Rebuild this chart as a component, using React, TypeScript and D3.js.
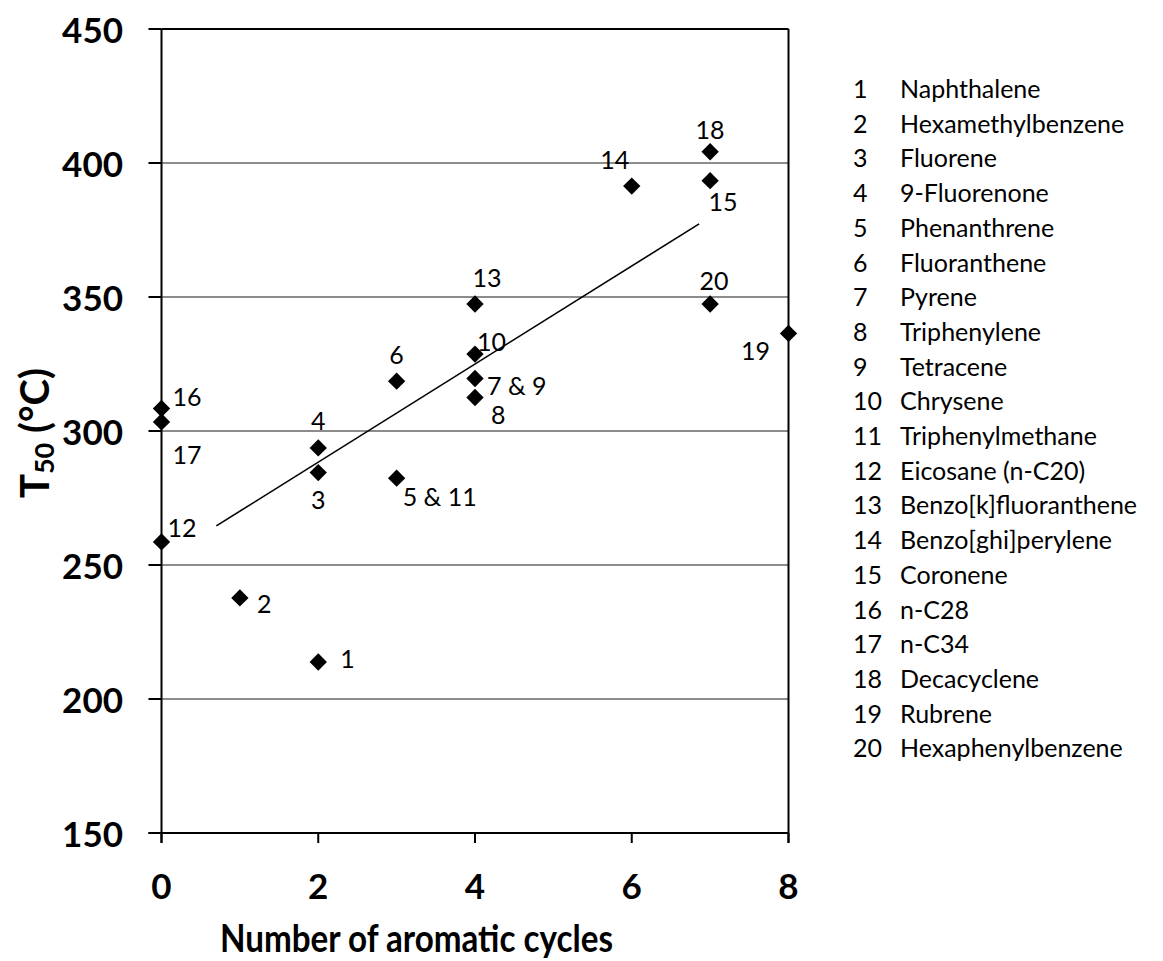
import React from 'react';
import * as d3 from 'd3';

// point labels, x = aromatic cycles, y = T50 (°C)
const pointLabels = ['1', '2', '3', '4', '5 & 11', '6', '7 & 9', '8', '10', '12', '13', '14', '15', '16', '17', '18', '19', '20'];
const cycles = [2, 1, 2, 2, 3, 3, 4, 4, 4, 0, 4, 6, 7, 0, 0, 7, 8, 7];
const t50 = [213.8, 237.7, 284.5, 293.7, 282.4, 318.6, 319.6, 312.5, 328.7, 258.6, 347.4, 391.4, 393.4, 308.4, 303.4, 404.2, 336.4, 347.4];

// trend line end points
const trendX = [0.7, 6.86];
const trendY = [264.6, 377.3];

const xTicks = [0, 2, 4, 6, 8];
const yTicks = [150, 200, 250, 300, 350, 400, 450];

const compounds = [
  'Naphthalene',
  'Hexamethylbenzene',
  'Fluorene',
  '9-Fluorenone',
  'Phenanthrene',
  'Fluoranthene',
  'Pyrene',
  'Triphenylene',
  'Tetracene',
  'Chrysene',
  'Triphenylmethane',
  'Eicosane (n-C20)',
  'Benzo[k]fluoranthene',
  'Benzo[ghi]perylene',
  'Coronene',
  'n-C28',
  'n-C34',
  'Decacyclene',
  'Rubrene',
  'Hexaphenylbenzene',
];

// label placement around each marker: [dx, dy, anchor]
const labelPos: Record<string, [number, number, string]> = {
  '1': [22, -4, 'start'],
  '2': [17, 5, 'start'],
  '3': [0, 26, 'middle'],
  '4': [0, -28, 'middle'],
  '5 & 11': [6, 18, 'start'],
  '6': [0, -27, 'middle'],
  '7 & 9': [12, 7, 'start'],
  '8': [16, 16, 'start'],
  '10': [2, -13, 'start'],
  '12': [6, -15, 'start'],
  '13': [12, -27, 'middle'],
  '14': [-17, -27, 'middle'],
  '15': [13, 20, 'middle'],
  '16': [11, -12, 'start'],
  '17': [11, 32, 'start'],
  '18': [0, -23, 'middle'],
  '19': [-33, 17, 'middle'],
  '20': [4, -24, 'middle'],
};

const W = 1163;
const H = 961;
const font = 'Lato, "Open Sans", sans-serif';

export default function App() {
  const x = d3.scaleLinear().domain([0, 8]).range([161.5, 788.5]);
  const y = d3.scaleLinear().domain([150, 450]).range([833, 29]);
  const diamond = d3.symbol(d3.symbolSquare, 150)() || '';
  const trend = d3.line<number>()((trendX.map((v, i) => [x(v), y(trendY[i])]) as any)) || '';

  return (
    <svg width={W} height={H} style={{ position: 'absolute', left: 0, top: 0, background: '#fff' }} fontFamily={font}>
      {/* gridlines */}
      {yTicks.slice(1, -1).map((t) => (
        <line key={t} x1={x(0)} x2={x(8)} y1={y(t)} y2={y(t)} stroke="#8c8c8c" strokeWidth={1.8} />
      ))}
      {/* frame */}
      <line x1={x(0)} x2={x(8)} y1={y(450)} y2={y(450)} stroke="#000" strokeWidth={2} />
      <line x1={x(8)} x2={x(8)} y1={y(450)} y2={y(150) + 10} stroke="#000" strokeWidth={2} />
      {/* y axis */}
      <line x1={x(0)} x2={x(0)} y1={y(450)} y2={y(150) + 10} stroke="#000" strokeWidth={2} />
      {yTicks.map((t) => (
        <g key={t}>
          <line x1={x(0) - 13} x2={x(0)} y1={y(t)} y2={y(t)} stroke="#000" strokeWidth={2} />
          <text x={123} y={y(t)} textAnchor="end" dominantBaseline="central" fontSize={35} fontWeight="bold">
            {t}
          </text>
        </g>
      ))}
      {/* x axis */}
      <line x1={x(0) - 13} x2={x(8)} y1={y(150)} y2={y(150)} stroke="#000" strokeWidth={2} />
      {xTicks.map((t) => (
        <g key={t}>
          <line x1={x(t)} x2={x(t)} y1={y(150)} y2={y(150) + 10} stroke="#000" strokeWidth={2} />
          <text x={x(t)} y={885} textAnchor="middle" dominantBaseline="central" fontSize={35} fontWeight="bold">
            {t}
          </text>
        </g>
      ))}
      {/* trend line */}
      <path d={trend} fill="none" stroke="#000" strokeWidth={1.6} />
      {/* points */}
      {pointLabels.map((lab, i) => {
        const px = x(cycles[i]);
        const py = y(t50[i]);
        const [dx, dy, anchor] = labelPos[lab];
        return (
          <g key={lab}>
            <path d={diamond} transform={`translate(${px},${py}) rotate(45)`} fill="#000" />
            <text x={px + dx} y={py + dy} textAnchor={anchor as any} dominantBaseline="central" fontSize={25}>
              {lab}
            </text>
          </g>
        );
      })}
      {/* axis titles */}
      <text
        x={220}
        y={937}
        dominantBaseline="central"
        fontSize={38}
        fontWeight="bold"
        textLength={393}
        lengthAdjust="spacingAndGlyphs"
      >
        Number of aromatic cycles
      </text>
      <text transform="translate(34,433) rotate(-90)" textAnchor="middle" dominantBaseline="central" fontSize={40} fontWeight="bold">
        T<tspan fontSize={27} dy={9}>50</tspan>
        <tspan dy={-9}> (°C)</tspan>
      </text>
      {/* legend */}
      {compounds.map((c, i) => (
        <g key={c} fontSize={25}>
          <text x={853} y={88 + i * 34.7} dominantBaseline="central">
            {i + 1}
          </text>
          <text x={900} y={88 + i * 34.7} dominantBaseline="central">
            {c}
          </text>
        </g>
      ))}
    </svg>
  );
}
